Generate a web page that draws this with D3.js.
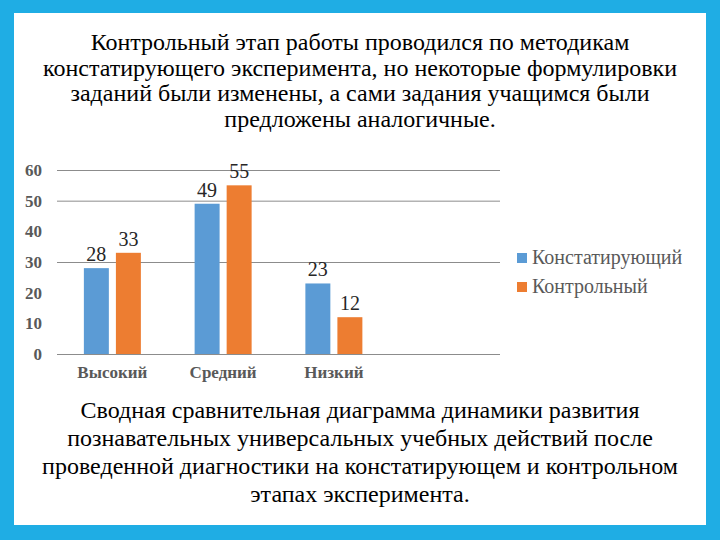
<!DOCTYPE html>
<html>
<head>
<meta charset="utf-8">
<script src="https://cdn.jsdelivr.net/npm/d3@7"></script>
<style>
  body { margin: 0; }
  svg { display: block; }
  svg text { font-family: "Liberation Serif", "Times New Roman", "DejaVu Serif", serif; }
</style>
</head>
<body>
<div id="chart"></div>
<script>
// Data
const categories = ["Высокий", "Средний", "Низкий"];
const seriesNames = ["Констатирующий", "Контрольный"];
const valuesStart = [28, 49, 23];
const valuesControl = [33, 55, 12];
const yTicks = [0, 10, 20, 30, 40, 50, 60];
const gridValues = [0, 30, 50, 60]; // only these lines show in the picture
const titleLines = [
    "Контрольный этап работы проводился по методикам",
    "констатирующего эксперимента, но некоторые формулировки",
    "заданий были изменены, а сами задания учащимся были",
    "предложены аналогичные."
];
const captionLines = [
    "Сводная сравнительная диаграмма динамики развития",
    "познавательных универсальных учебных действий после",
    "проведенной диагностики на констатирующем и контрольном",
    "этапах эксперимента."
];

const width = 720;
const height = 540;
const colors = ["#5b9bd5", "#ed7d31"];

const svg = d3.select("#chart")
    .append("svg")
    .attr("width", width)
    .attr("height", height);

// blue frame
svg.append("rect")
    .attr("width", width).attr("height", height)
    .attr("fill", "#1fade4");
svg.append("rect")
    .attr("x", 14).attr("y", 13)
    .attr("width", 692).attr("height", 512)
    .attr("fill", "#fff");

// title
svg.append("g").selectAll("text")
    .data(titleLines)
    .join("text")
    .attr("x", 360)
    .attr("y", (d, i) => 50 + i * 25.7)
    .attr("text-anchor", "middle")
    .attr("font-size", 24)
    .attr("fill", "#000")
    .text(d => d);

// caption
svg.append("g").selectAll("text")
    .data(captionLines)
    .join("text")
    .attr("x", 360)
    .attr("y", (d, i) => 418 + i * 28)
    .attr("text-anchor", "middle")
    .attr("font-size", 24)
    .attr("fill", "#000")
    .text(d => d);

// scales
const plot = { left: 57, right: 500, top: 170, bottom: 354 };

const x0 = d3.scaleBand()
    .domain(categories.concat([""])) // fourth, empty slot
    .range([plot.left, plot.right]);

const x1 = d3.scaleBand()
    .domain(seriesNames)
    .range([0, 57])
    .paddingInner(0.22);

const y = d3.scaleLinear()
    .domain([0, 60])
    .range([plot.bottom, plot.top]);

// grid lines
svg.append("g").selectAll("line")
    .data(gridValues)
    .join("line")
    .attr("x1", plot.left).attr("x2", plot.right)
    .attr("y1", d => y(d) + 0.5).attr("y2", d => y(d) + 0.5)
    .attr("stroke", "#8c8c8c")
    .attr("stroke-width", 1);

// y axis labels
const yAxis = d3.axisLeft(y).tickValues(yTicks).tickSize(0).tickPadding(0);
const gy = svg.append("g")
    .attr("transform", "translate(42,0)")
    .call(yAxis);
gy.attr("font-family", null);
gy.select(".domain").remove();
gy.selectAll("text")
    .attr("font-size", 17)
    .attr("font-weight", "bold")
    .attr("fill", "#595959");

// x axis labels
const xAxis = d3.axisBottom(x0).tickSize(0).tickPadding(0);
const gx = svg.append("g")
    .attr("transform", `translate(0,${plot.bottom + 12})`)
    .call(xAxis);
gx.attr("font-family", null);
gx.select(".domain").remove();
gx.selectAll("text")
    .attr("font-size", 17)
    .attr("font-weight", "bold")
    .attr("fill", "#595959");

// bars
const series = [valuesStart, valuesControl];
const groups = svg.append("g").selectAll("g")
    .data(categories)
    .join("g")
    .attr("transform", d => `translate(${x0(d) + (x0.bandwidth() - 57) / 2},0)`);

groups.selectAll("rect")
    .data((d, i) => seriesNames.map((s, j) => ({ s, j, v: series[j][i] })))
    .join("rect")
    .attr("x", d => x1(d.s))
    .attr("y", d => y(d.v))
    .attr("width", x1.bandwidth())
    .attr("height", d => y(0) - y(d.v))
    .attr("fill", d => colors[d.j]);

groups.selectAll("text")
    .data((d, i) => seriesNames.map((s, j) => ({ s, j, v: series[j][i] })))
    .join("text")
    .attr("x", d => x1(d.s) + x1.bandwidth() / 2)
    .attr("y", d => y(d.v) - 7)
    .attr("text-anchor", "middle")
    .attr("font-size", 20)
    .attr("fill", "#262626")
    .text(d => d.v);

// legend
const legend = svg.append("g").selectAll("g")
    .data(seriesNames)
    .join("g")
    .attr("transform", (d, i) => `translate(517,${258 + i * 29})`);
legend.append("rect")
    .attr("x", 0).attr("y", -5)
    .attr("width", 10).attr("height", 10)
    .attr("fill", (d, i) => colors[i]);
legend.append("text")
    .attr("x", 15)
    .attr("y", 6)
    .attr("font-size", 20)
    .attr("fill", "#595959")
    .text(d => d);
</script>
</body>
</html>
